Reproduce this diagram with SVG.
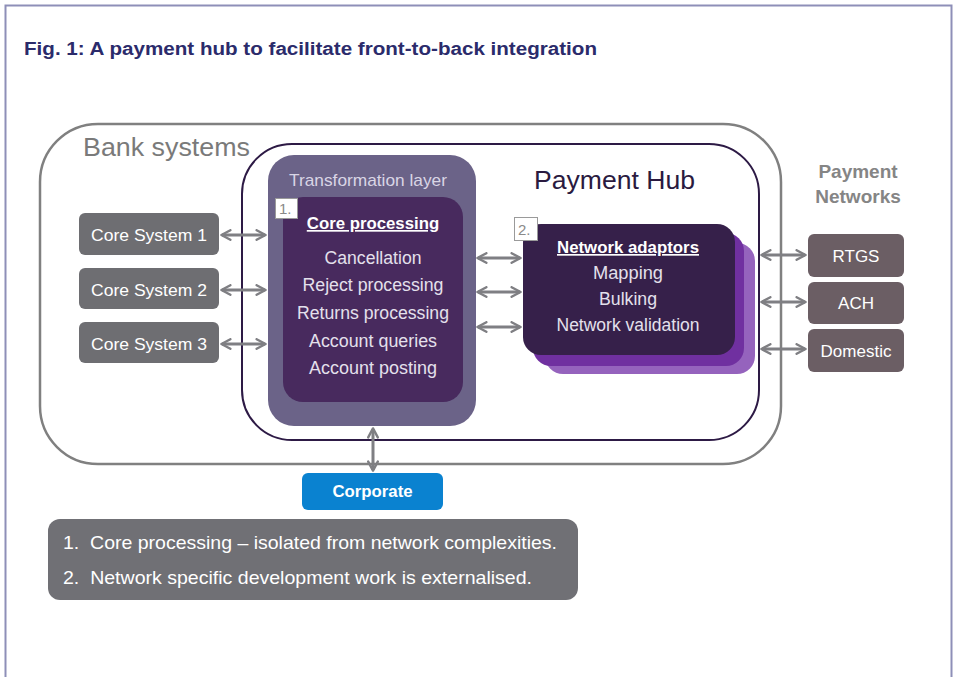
<svg xmlns="http://www.w3.org/2000/svg" width="960" height="677" viewBox="0 0 960 677">
  <defs>
    <marker id="ah" viewBox="0 0 10 10" refX="8" refY="5" markerWidth="4" markerHeight="4" orient="auto-start-reverse" markerUnits="strokeWidth">
      <path d="M1,1 L8.5,5 L1,9" fill="none" stroke="#7f7f83" stroke-width="2" stroke-linecap="round" stroke-linejoin="round"/>
    </marker>
    <style>
      text { font-family: "Liberation Sans", Arial, sans-serif; }
      .link { stroke: #7f7f83; stroke-width: 3; fill: none; marker-start: url(#ah); marker-end: url(#ah); }
      .sys { fill: #6e6e72; }
      .net { fill: #6b5e64; }
      .boxlbl { fill: #ffffff; font-size: 17px; text-anchor: middle; }
      .item { fill: #e4e0ec; font-size: 17.5px; text-anchor: middle; }
      .head { fill: #ffffff; font-size: 16.8px; font-weight: bold; text-anchor: middle; text-decoration: underline; }
      .tag { fill: #ffffff; stroke: #9a9a9a; stroke-width: 1; }
      .tagtxt { fill: #8a8a8a; font-size: 15px; }
    </style>
  </defs>

  <rect width="960" height="677" fill="#ffffff"/>
  <!-- page frame -->
  <path d="M5.5,677 V5.5 H951.5 V677" fill="none" stroke="#8e8fb8" stroke-width="2"/>

  <text x="24" y="55" font-size="18" font-weight="bold" fill="#2b2b6b" textLength="573" lengthAdjust="spacingAndGlyphs">Fig. 1: A payment hub to facilitate front-to-back integration</text>

  <!-- Bank systems container -->
  <g id="bank-systems">
    <rect x="40" y="124" width="741" height="340" rx="58" fill="none" stroke="#808080" stroke-width="2.5"/>
    <text x="83" y="156" font-size="25" fill="#7a7a7a" textLength="167" lengthAdjust="spacingAndGlyphs">Bank systems</text>
  </g>

  <!-- Payment hub container -->
  <g id="payment-hub">
    <rect x="242" y="144" width="517" height="296" rx="50" fill="none" stroke="#2d1a45" stroke-width="2"/>
    <text x="614.5" y="189" font-size="25" fill="#2a1a40" text-anchor="middle" textLength="161" lengthAdjust="spacingAndGlyphs">Payment Hub</text>
  </g>

  <!-- Transformation layer with core processing -->
  <g id="transformation-layer">
    <rect x="268" y="155" width="208" height="271" rx="26" fill="#6b6388"/>
    <text x="368" y="186" font-size="17" fill="#d9d5e5" text-anchor="middle" textLength="158" lengthAdjust="spacingAndGlyphs">Transformation layer</text>
  </g>
  <g id="core-processing">
    <rect x="283" y="197" width="180" height="205" rx="20" fill="#482a5e"/>
    <rect class="tag" x="275.5" y="198.5" width="22" height="20"/>
    <text class="tagtxt" x="279" y="214">1.</text>
    <text class="head" x="373" y="229">Core processing</text>
    <text class="item" x="373" y="264" textLength="97" lengthAdjust="spacingAndGlyphs">Cancellation</text>
    <text class="item" x="373" y="291" textLength="141" lengthAdjust="spacingAndGlyphs">Reject processing</text>
    <text class="item" x="373" y="319" textLength="152" lengthAdjust="spacingAndGlyphs">Returns processing</text>
    <text class="item" x="373" y="347" textLength="128" lengthAdjust="spacingAndGlyphs">Account queries</text>
    <text class="item" x="373" y="374" textLength="128" lengthAdjust="spacingAndGlyphs">Account posting</text>
  </g>

  <!-- Network adaptors (stacked) -->
  <g id="network-adaptors">
    <rect x="545" y="243" width="210" height="131" rx="18" fill="#9563bd"/>
    <rect x="533" y="233" width="211" height="133" rx="18" fill="#7030a0"/>
    <rect x="523" y="224" width="212" height="131" rx="18" fill="#36204a"/>
    <rect class="tag" x="514.5" y="217.5" width="23" height="23"/>
    <text class="tagtxt" x="518" y="235">2.</text>
    <text class="head" x="628" y="253" textLength="142" lengthAdjust="spacingAndGlyphs">Network adaptors</text>
    <text class="item" x="628" y="279" textLength="70" lengthAdjust="spacingAndGlyphs">Mapping</text>
    <text class="item" x="628" y="305" textLength="58" lengthAdjust="spacingAndGlyphs">Bulking</text>
    <text class="item" x="628" y="331" textLength="143" lengthAdjust="spacingAndGlyphs">Network validation</text>
  </g>

  <!-- Core systems -->
  <g id="core-system-1">
    <rect class="sys" x="79" y="213" width="140" height="42" rx="6"/>
    <text class="boxlbl" x="149" y="241" textLength="116" lengthAdjust="spacingAndGlyphs">Core System 1</text>
  </g>
  <g id="core-system-2">
    <rect class="sys" x="79" y="268" width="140" height="41" rx="6"/>
    <text class="boxlbl" x="149" y="296" textLength="116" lengthAdjust="spacingAndGlyphs">Core System 2</text>
  </g>
  <g id="core-system-3">
    <rect class="sys" x="79" y="322" width="140" height="41" rx="6"/>
    <text class="boxlbl" x="149" y="350" textLength="116" lengthAdjust="spacingAndGlyphs">Core System 3</text>
  </g>

  <!-- Payment networks -->
  <g id="payment-networks-label">
    <text x="858" y="178" font-size="19" font-weight="bold" fill="#858585" text-anchor="middle">Payment</text>
    <text x="858" y="203" font-size="19" font-weight="bold" fill="#858585" text-anchor="middle">Networks</text>
  </g>
  <g id="rtgs">
    <rect class="net" x="808" y="234" width="96" height="43" rx="6"/>
    <text class="boxlbl" x="856" y="262" font-size="17.5">RTGS</text>
  </g>
  <g id="ach">
    <rect class="net" x="808" y="282" width="96" height="42" rx="6"/>
    <text class="boxlbl" x="856" y="309" font-size="17.5">ACH</text>
  </g>
  <g id="domestic">
    <rect class="net" x="808" y="329" width="96" height="43" rx="6"/>
    <text class="boxlbl" x="856" y="357" font-size="17.5">Domestic</text>
  </g>

  <!-- Corporate -->
  <g id="corporate">
    <rect x="302" y="473" width="141" height="37" rx="6" fill="#0a82d0"/>
    <text x="372.5" y="497" font-size="16.8" font-weight="bold" fill="#ffffff" text-anchor="middle">Corporate</text>
  </g>

  <!-- Connectors -->
  <g id="connectors">
    <line class="link" x1="222" y1="235" x2="265" y2="235"/>
    <line class="link" x1="222" y1="290" x2="265" y2="290"/>
    <line class="link" x1="222" y1="344" x2="265" y2="344"/>
    <line class="link" x1="478" y1="258" x2="520" y2="258"/>
    <line class="link" x1="478" y1="292" x2="520" y2="292"/>
    <line class="link" x1="478" y1="327" x2="520" y2="327"/>
    <line class="link" x1="762" y1="255" x2="805" y2="255"/>
    <line class="link" x1="762" y1="302" x2="805" y2="302"/>
    <line class="link" x1="762" y1="349" x2="805" y2="349"/>
    <line class="link" x1="373" y1="429" x2="373" y2="470"/>
  </g>

  <!-- Notes -->
  <g id="notes">
    <rect x="48" y="519" width="530" height="81" rx="12" fill="#707075"/>
    <text x="63" y="549" font-size="18.5" fill="#ffffff" xml:space="preserve" textLength="494" lengthAdjust="spacingAndGlyphs">1.  Core processing – isolated from network complexities.</text>
    <text x="63" y="584" font-size="18.5" fill="#ffffff" xml:space="preserve" textLength="469" lengthAdjust="spacingAndGlyphs">2.  Network specific development work is externalised.</text>
  </g>
</svg>
